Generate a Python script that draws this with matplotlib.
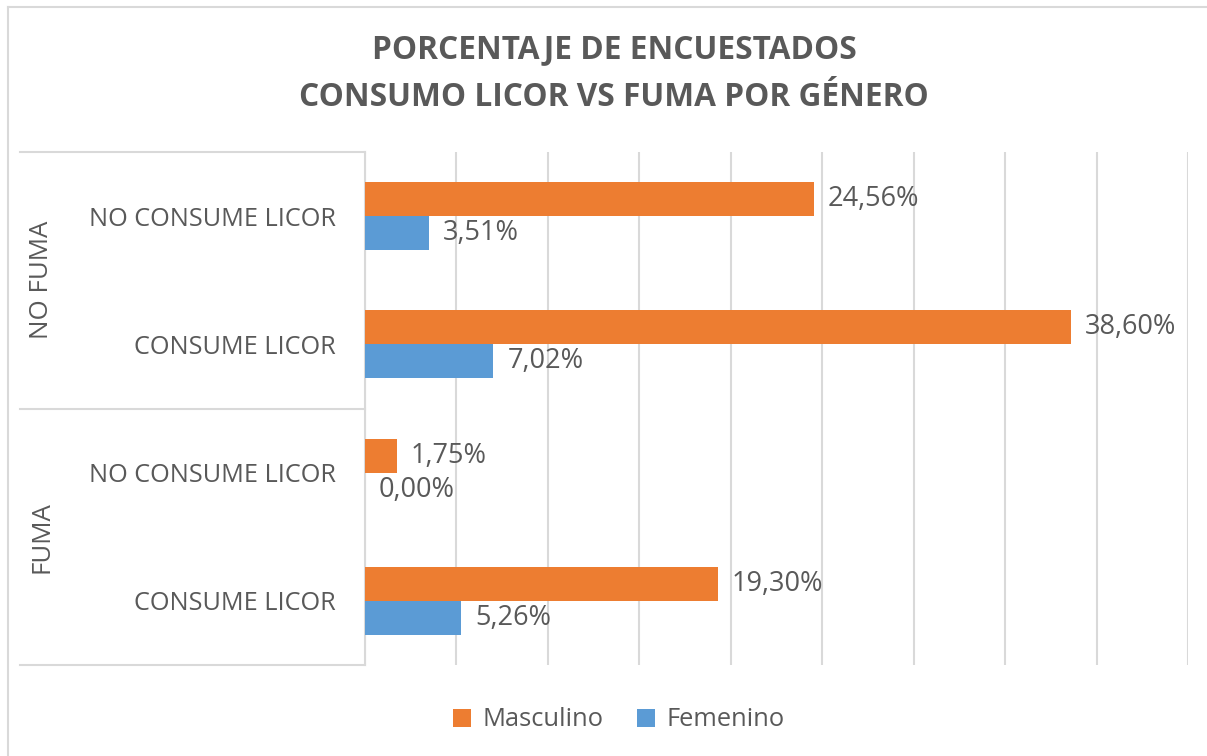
import matplotlib.pyplot as plt
import matplotlib.transforms as mtransforms
from matplotlib.lines import Line2D
from matplotlib.patches import Patch
import numpy as np

plt.rcParams["font.family"] = ["Open Sans", "DejaVu Sans"]

TEXT = "#595959"
GRID = "#d9d9d9"
ORANGE = "#ED7D31"
BLUE = "#5B9BD5"

groups = ["NO FUMA", "FUMA"]
categories = ["NO CONSUME LICOR", "CONSUME LICOR", "NO CONSUME LICOR", "CONSUME LICOR"]
masculino = [24.56, 38.60, 1.75, 19.30]
femenino = [3.51, 7.02, 0.00, 5.26]
series_names = ["Masculino", "Femenino"]

W, H = 1207, 756
fig = plt.figure(figsize=(W / 100, H / 100), dpi=100)
ax = fig.add_axes([365 / W, 1 - 665 / H, 823 / W, 513 / H])

y = np.arange(len(categories))
h = 0.266
ax.barh(y - h / 2, masculino, height=h, color=ORANGE, zorder=3)
ax.barh(y + h / 2, femenino, height=h, color=BLUE, zorder=3)

def fmt(v):
    return f"{v:.2f}%".replace(".", ",")

for yi, v in zip(y - h / 2, masculino):
    ax.annotate(fmt(v), (v, yi), xytext=(10, 0), textcoords="offset points",
                va="center", ha="left", fontsize=19.5, color=TEXT)
for yi, v in zip(y + h / 2, femenino):
    ax.annotate(fmt(v), (v, yi), xytext=(10, 0), textcoords="offset points",
                va="center", ha="left", fontsize=19.5, color=TEXT)

ax.set_xlim(0, 45)
ax.set_ylim(len(categories) - 0.5, -0.5)
ax.set_xticks(np.arange(0, 46, 5))
ax.set_xticklabels([])
ax.tick_params(axis="x", length=0)
ax.grid(axis="x", color=GRID, linewidth=1.5, zorder=0)

ax.set_yticks(y)
ax.set_yticklabels(categories, fontsize=18.2, color=TEXT)
ax.tick_params(axis="y", length=0, pad=21)

for s in ["top", "right", "bottom"]:
    ax.spines[s].set_visible(False)
ax.spines["left"].set_color(GRID)
ax.spines["left"].set_linewidth(1.5)

# multi-level category axis: boundary lines and group labels
blend = mtransforms.blended_transform_factory(fig.transFigure, ax.transData)
per_group = len(categories) // len(groups)
for b in np.arange(0, len(categories) + 1, per_group) - 0.5:
    fig.add_artist(Line2D([20 / W, 365 / W], [b, b], transform=blend,
                          color=GRID, linewidth=1.5, clip_on=False))
for i, g in enumerate(groups):
    yc = i * per_group + (per_group - 1) / 2
    fig.text(42 / W, yc, g, transform=blend, rotation=90, ha="center",
             va="center", fontsize=18.6, color=TEXT)

# chart border (top and left visible)
fig.add_artist(Line2D([8 / W, 8 / W], [0, 1 - 7 / H], transform=fig.transFigure,
                      color=GRID, linewidth=1.5))
fig.add_artist(Line2D([8 / W, 1], [1 - 7 / H, 1 - 7 / H], transform=fig.transFigure,
                      color=GRID, linewidth=1.5))

fig.text(614 / W, 1 - 50 / H, "PORCENTAJE DE ENCUESTADOS", ha="center", va="center",
         fontsize=22.8, fontweight="bold", color=TEXT)
fig.text(614 / W, 1 - 97 / H, "CONSUMO LICOR VS FUMA POR GÉNERO", ha="center",
         va="center", fontsize=22.8, fontweight="bold", color=TEXT)

handles = [Patch(facecolor=ORANGE), Patch(facecolor=BLUE)]
fig.legend(handles, series_names, loc="center", bbox_to_anchor=(619 / W, 1 - 720 / H),
           ncol=2, frameon=False, fontsize=18.4, labelcolor=TEXT,
           handlelength=0.7, handleheight=0.7, handletextpad=0.45, columnspacing=1.3)

fig.savefig("out.png", dpi=100)
